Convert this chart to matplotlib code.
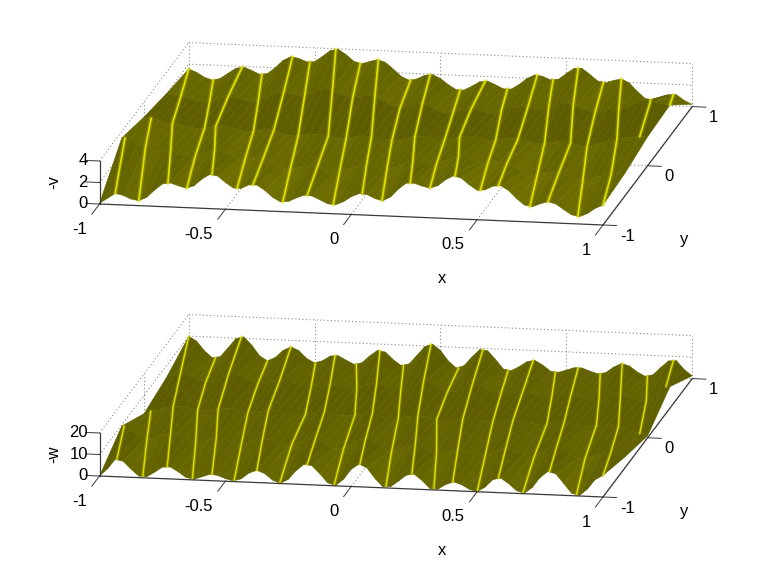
#! /usr/bin/env python3
import numpy as np
import matplotlib

matplotlib.use("Agg")
import matplotlib.pyplot as plt
from mpl_toolkits.mplot3d import proj3d

plt.rcParams["font.family"] = ["Liberation Sans", "DejaVu Sans"]

nan = float("nan")

# surface heights, one list per y row, 65 columns in x
y_rows = [-1.0, -0.5, 0.0, 0.5, 1.0]
x_grid = np.linspace(-1, 1, 65)

v_y_m100 = [.06, .55, 1.05, .89, .58, .46, .80, 1.50, 2.11, 2.23, 2.0, 1.8, 2.05, 2.70, 3.17, 3.06, 2.49, 2.0, 2.0, 2.36, 2.37, 1.91, 1.29, .90, .96, 1.32, 1.61, 1.57, 1.24, .90, .84, 1.15, 1.65, 1.97, 1.91, 1.57, 1.4, 1.78, 2.55, 3.13, 3.15, 2.91, 2.75, 3.01, 3.60, 3.99, 3.80, 3.21, 2.74, 2.81, 3.18, 3.26, 2.83, 2.12, 1.55, 1.42, 1.72, 1.95, 1.76, 1.28, .82, .68, .99, 1.51, 1.85]
v_y_m050 = [3.4, 3.2, 2.9, 2.6, 2.4, 2.4, 2.3, 2.1, 1.95, 1.9, 2.1, 2.4, 2.7, 2.4, 2.1, 1.9, 2.0, 2.1, 2.1, 1.7, 1.4, 1.1, 1.25, 1.4, 1.5, 1.35, 1.2, 1.1, 1.2, 1.45, 1.7, 1.8, 1.7, 1.5, 1.55, 1.85, 2.2, 2.4, 2.3, 2.2, 2.2, 2.5, 2.8, 3.0, 2.8, 2.55, 2.4, 2.5, 2.6, 2.6, 2.2, 1.8, 1.5, 1.55, 1.8, 1.9, 1.75, 1.45, 1.2, 1.25, 1.5, 1.75, 1.9, 2.0, 2.1]
v_y_000 = [2.6, 2.5, 2.3, 2.1, 2.1, 1.95, 1.8, 1.7, 1.85, 2.0, 2.1, 1.95, 1.75, 1.65, 1.7, 1.85, 1.9, 1.7, 1.5, 1.4, 1.5, 1.6, 1.65, 1.5, 1.4, 1.35, 1.45, 1.6, 1.7, 1.6, 1.5, 1.45, 1.4, 1.55, 1.75, 1.9, 1.8, 1.7, 1.65, 1.75, 1.95, 2.1, 2.0, 1.85, 1.75, 1.85, 2.0, 2.1, 1.95, 1.75, 1.6, 1.7, 1.85, 1.95, 1.8, 1.65, 1.55, 1.7, 1.95, 2.2, 2.35, 2.5, 2.6, 2.7, 2.7]
v_y_p050 = [2.0, 1.9, 1.75, 1.6, 1.4, 1.3, 1.45, 1.7, 1.9, 1.8, 1.65, 1.6, 1.8, 2.2, 2.5, 2.55, 2.4, 2.3, 2.5, 2.85, 3.1, 2.95, 2.65, 2.45, 2.45, 2.55, 2.6, 2.35, 2.0, 1.7, 1.6, 1.75, 1.95, 1.95, 1.6, 1.3, 1.25, 1.45, 1.65, 1.7, 1.55, 1.4, 1.45, 1.8, 2.1, 2.2, 2.05, 1.9, 1.95, 2.25, 2.55, 2.7, 2.45, 2.15, 1.95, 2.0, 2.2, 2.2, 2.3, 2.6, 3.0, 3.2, 3.1, 3.0, 2.9]
v_y_p100 = [1.55, 1.27, .84, .6, .79, 1.30, 1.80, 1.94, 1.66, 1.33, 1.43, 2.0, 2.72, 3.09, 2.96, 2.67, 2.72, 3.24, 3.82, 3.96, 3.5, 2.90, 2.71, 2.95, 3.15, 2.93, 2.34, 1.69, 1.36, 1.51, 1.88, 1.97, 1.64, 1.09, .66, .66, 1.05, 1.49, 1.58, 1.27, .92, .93, 1.39, 1.98, 2.34, 2.24, 1.93, 2.03, 2.59, 3.11, 3.13, 2.60, 2.01, 1.88, 2.13, 2.3, 1.96, 1.22, .58, .46, .72, 1.03, 1.04, .54, .2]

w_y_m100 = [0, 3.4, 8.1, 7.3, 3.8, .7, .55, 2.8, 5.35, 5.55, 3.45, .95, .25, 1.6, 2.9, 2.6, 1.2, .3, 1.4, 4.25, 5.7, 4.3, 1.4, .1, 2.1, 6.35, 9.4, 8.9, 5.3, 1.25, .1, 3.1, 8.0, 10.6, 8.9, 4.2, .5, .65, 3.4, 6.3, 6.95, 4.1, .55, .4, 2.7, 4.1, 3.0, .95, 0, 2.25, 5.95, 6.8, 4.4, 1.25, .2, 3.0, 7.8, 10.8, 9.8, 5.5, 1.1, .2, 3.3, 7.9, 10]
w_y_m050 = [9.5, 8, 5.5, 4, 4.6, 6, 7, 6.5, 5, 3.7, 3.6, 4.5, 5.5, 5.2, 4.2, 3.5, 4.2, 5.6, 6.5, 5.6, 4, 3, 4.2, 6.2, 8, 7.2, 5, 3.2, 3.3, 5.2, 7.6, 8.4, 7, 4.6, 3, 4, 5.6, 6.4, 5.4, 4, 3.1, 3.6, 4.7, 5, 4.2, 3.4, 3, 4.2, 5.8, 6.5, 5.5, 3.8, 3, 4.6, 7, 8.5, 7.5, 5, 3.2, 3.6, 4.8, 5.8, 6, 5.5, 5]
w_y_000 = [1.5, 2.8, 4, 5, 5.6, 5.5, 4.8, 4.2, 4.2, 4.8, 5.5, 5.4, 4.7, 4.1, 4.2, 4.9, 5.5, 5.3, 4.7, 4.2, 4.3, 5, 5.7, 5.6, 4.9, 4.3, 4.4, 5, 5.7, 5.7, 5, 4.3, 4.2, 4.8, 5.5, 5.8, 5.3, 4.6, 4.2, 4.5, 5.1, 5.5, 5.2, 4.6, 4.2, 4.6, 5.3, 5.7, 5.2, 4.5, 4.2, 4.6, 5.3, 5.7, 5.2, 4.5, 4.2, 4.5, 5, 5.3, 4.8, 3.8, 2.8, 1.8, .9]
w_y_p050 = [4.5, 6, 7, 5.8, 4, 3.1, 3.6, 5.4, 7.4, 7.6, 5.8, 3.7, 3.1, 4, 5.4, 5.9, 4.8, 3.4, 3.1, 3.6, 4.2, 4.4, 3.8, 3.1, 3.4, 4.5, 5.7, 5.6, 4.3, 3.2, 3.2, 4.6, 6.8, 8, 6.8, 4.5, 3.1, 4, 6, 7.4, 6.7, 4.7, 3.2, 3.2, 4, 4.9, 4.6, 3.6, 3, 3.3, 3.8, 4, 3.7, 3.2, 3, 3.4, 4.4, 5, 4.5, 3.7, 3.1, 3, 5, 8, 10]
w_y_p100 = [9.9, 7.85, 3.5, .4, 1.05, 5.3, 9.8, 10.7, 7.1, 2.3, 0, 1.75, 5.2, 7, 5.4, 1.9, 0, 1.15, 3.5, 3.8, 1.9, .1, .95, 4.3, 7.0, 6.4, 3.0, .45, 1.35, 5.4, 9.7, 11, 8.2, 3.5, .4, 1.6, 5.8, 9.4, 9.0, 5.1, .8, .2, 2.2, 4.7, 5.45, 3.4, .7, .35, 1.5, 2.8, 2.8, 1.5, .4, 1.1, 3.8, 5.65, 4.7, 2.1, .2, 1.0, 4.55, 7.8, 8.0, 4.0, 1.3]

# bright crease lines: x grid column they sit on at each y row
v_ridges = [
    [2, .4, nan, nan, nan], [5, 3, .9, nan, nan],
    [8.7, 6.2, 3.6, 1.8, 0], [11.1, 9.3, 7.7, 5.5, 3.1],
    [14.3, 11.8, 9.1, 7.8, 6.8], [17.5, 15.7, 13.9, 11.7, 9.3],
    [19.5, 18, 16.5, 14.9, 13.2], [23.3, 21.4, 19.6, 17.6, 15.4],
    [26.4, 24.8, 23.4, 21.1, 18.7], [29.7, 27.7, 25.7, 23.7, 21.8],
    [33.4, 31.1, 28.9, 26.5, 24.1], [35.9, 33.7, 31.5, 29.7, 28.2],
    [39.5, 37, 34.4, 32.5, 30.7], [42, 40, 38.2, 36.4, 34.5],
    [45.2, 42.8, 40.1, 38.7, 37.7], [48.4, 46.5, 44.7, 42.6, 40.5],
    [50.7, 49, 47.5, 45.9, 44.3], [54.7, 52.8, 50.9, 48.6, 46.3],
    [57, 55.5, 54.2, 51.7, 49.5], [60.8, 58.6, 56.3, 54.5, 52.7],
    [64, 62.2, 60.1, 57.5, 55], [nan, nan, 63, 61.5, 58.7],
    [nan, nan, nan, 64, 61.6],
]
w_ridges = [
    [2.2, .3, nan, nan, nan], [5.5, 3.2, .85, nan, nan],
    [8.6, 6.2, 3.7, 1.8, 0], [11.8, 9.4, 6.8, 5, 3.4],
    [14.3, 12, 9.4, 7.9, 6.7], [17.1, 15.2, 13.2, 11.6, 10],
    [20, 17.9, 15.8, 14.4, 13], [22.9, 21.6, 20.5, 18.4, 16.1],
    [26.4, 24.6, 22.9, 20.8, 18.6], [29.8, 28.2, 26.8, 24.2, 21.3],
    [33.1, 31, 29, 26.7, 24.3], [36.4, 34.3, 32.3, 29.8, 27.3],
    [39.7, 37.3, 34.8, 32.7, 30.8], [42.5, 40, 37.2, 35.7, 34.3],
    [44.9, 42.7, 40.5, 38.9, 37.4], [48, 46.2, 44.3, 42.5, 40.6],
    [50.7, 48.8, 46.9, 45.3, 43.8], [53.8, 52.4, 51.2, 49, 46.6],
    [57.2, 55.3, 53.4, 51.4, 49.5], [60.6, 58.9, 57.5, 55, 52.3],
    [64, 62.1, 60.3, 57.7, 55.1], [nan, nan, 63, 61, 58.3],
    [nan, nan, nan, 63.5, 61.6],
]

# how much darker each y row of the surface looks
v_row_tone = [1.0, 0.98, 0.9, 0.98, 1.0]
w_row_tone = [1.0, 0.98, 0.95, 0.98, 1.0]

x_ticks = [-1, -0.5, 0, 0.5, 1]
x_tick_labels = ["-1", "-0.5", "0", "0.5", "1"]
y_ticks = [-1, 0, 1]
y_tick_labels = ["-1", "0", "1"]
v_ticks = [0, 2, 4]
w_ticks = [0, 10, 20]

GRID = "#8a8a8a"
AXIS = "#3a3a3a"
FIG_W, FIG_H = 763, 575


def to_px(ax, x, y, z):
    ax.apply_aspect()
    xp, yp, _ = proj3d.proj_transform(x, y, z, ax.get_proj())
    return ax.transData.transform((xp, yp))


def fit_axes(ax, left_px, right_px):
    # put the front edge of the box on the wanted pixels
    side = 500.0
    cx, cy = FIG_W / 2, FIG_H / 2
    for _ in range(3):
        ax.set_position([(cx - side / 2) / FIG_W, (cy - side / 2) / FIG_H, side / FIG_W, side / FIG_H])
        a = to_px(ax, -1, -1, 0)
        b = to_px(ax, 1, -1, 0)
        side *= (right_px[0] - left_px[0]) / (b[0] - a[0])
    ax.set_position([(cx - side / 2) / FIG_W, (cy - side / 2) / FIG_H, side / FIG_W, side / FIG_H])
    a = to_px(ax, -1, -1, 0)
    cx += left_px[0] - a[0]
    cy += (FIG_H - left_px[1]) - a[1]
    ax.set_position([(cx - side / 2) / FIG_W, (cy - side / 2) / FIG_H, side / FIG_W, side / FIG_H])
    ax.apply_aspect()


def label(ax, x, y, z, s, **kw):
    xp, yp, _ = proj3d.proj_transform(x, y, z, ax.get_proj())
    ax.text2D(xp, yp, s, transform=ax.transData, fontsize=12, va="center", zorder=6, **kw)


def panel(rows, ridges, row_tone, z_ticks, z_label, left_px, right_px, px_per_z, base, amp, ridge_lw):
    z_top = z_ticks[-1]
    Z = np.array(rows)
    X, Y = np.meshgrid(x_grid, y_rows)

    ax = fig.add_subplot(projection="3d", proj_type="ortho", computed_zorder=False)
    ax.view_init(elev=13.6, azim=-79.95)
    ax.set_box_aspect((511, 511, 44.2))
    ax.set_xlim(-1, 1, view_margin=0)
    ax.set_ylim(-1, 1, view_margin=0)
    ax.set_zlim(0, z_top, view_margin=0)
    ax.set_axis_off()
    ax.patch.set_visible(False)
    fit_axes(ax, left_px, right_px)

    # dotted back walls and floor, behind the surface
    dots = dict(color=GRID, lw=0.8, ls=(0, (1, 2.2)), zorder=1)
    for z in z_ticks[1:]:
        ax.plot([-1, 1], [1, 1], [z, z], **dots)
        ax.plot([-1, -1], [-1, 1], [z, z], **dots)
    for x in x_ticks[1:]:
        ax.plot([x, x], [-1, 1], [0, 0], **dots)
        ax.plot([x, x], [1, 1], [0, z_top], **dots)
    ax.plot([-1, 1], [0, 0], [0, 0], **dots)
    ax.plot([-1, -1], [-1, 1], [0, 0], **dots)
    ax.plot([-1, 1], [1, 1], [0, 0], **dots)
    ax.plot([-1, -1], [0, 0], [0, z_top], **dots)
    ax.plot([-1, -1], [1, 1], [0, z_top], **dots)

    # shade each facet by how the picture's wave tilts in screen pixels
    tilt_x = np.gradient(Z, axis=1) * px_per_z / 7.87
    tilt_y = np.gradient(Z, axis=0) * px_per_z / 30.0
    level = base - amp * tilt_x - 0.2 * amp * tilt_y
    level = np.clip(level * np.array(row_tone)[:, None], 0.31, 0.52)
    colors = np.dstack([level, level, np.zeros_like(level), np.ones_like(level)])
    ax.plot_surface(X, Y, Z, facecolors=colors, rstride=1, cstride=1, shade=False, linewidth=0.35, antialiased=True, zorder=2)

    for cols in ridges:
        cols = np.array(cols)
        xs = -1 + cols / 32.0
        zs = [Z[i, int(round(c))] if c == c else nan for i, c in enumerate(cols)]
        ax.plot(xs, y_rows, zs, color="#c8c800", lw=ridge_lw * 2.6, alpha=0.28, zorder=3, solid_capstyle="round")
        ax.plot(xs, y_rows, zs, color="#e6e600", lw=ridge_lw, alpha=0.95, zorder=4, solid_capstyle="round")

    # axis lines, ticks and their labels
    ax.plot([-1, 1], [-1, -1], [0, 0], color=AXIS, lw=0.9, zorder=5)
    ax.plot([1, 1], [-1, 1], [0, 0], color=AXIS, lw=0.9, zorder=5)
    ax.plot([-1, -1], [-1, -1], [0, z_top], color=AXIS, lw=0.9, zorder=5)
    for x, lab in zip(x_ticks, x_tick_labels):
        ax.plot([x, x], [-1, -1.17], [0, 0], color=AXIS, lw=0.7, zorder=5)
        label(ax, x + 0.025, -1.42, 0, lab, ha="right")
    for y, lab in zip(y_ticks, y_tick_labels):
        ax.plot([1, 1.054], [y, y], [0, 0], color=AXIS, lw=0.7, zorder=5)
        label(ax, 1.097, y - 0.169, 0, lab, ha="left")
    for z in z_ticks:
        ax.plot([-1, -1.054], [-1, -1], [z, z], color=AXIS, lw=0.7, zorder=5)
        label(ax, -1.046, -1, z, str(z), ha="right")
    label(ax, 0.534, -1.981, 0, "x", ha="center")
    label(ax, 1.355, -1.19, 0, "y", ha="center")
    label(ax, -1.239, -0.67, 0, z_label, ha="center", rotation=90)
    return ax


fig = plt.figure(figsize=(FIG_W / 100, FIG_H / 100), dpi=100)

panel([v_y_m100, v_y_m050, v_y_000, v_y_p050, v_y_p100], v_ridges, v_row_tone, v_ticks, "-v", (99.5, 204), (603, 225), 10.75, 0.41, 0.03, 1.25)
panel([w_y_m100, w_y_m050, w_y_000, w_y_p050, w_y_p100], w_ridges, w_row_tone, w_ticks, "-w", (99.5, 476), (603, 497), 2.2, 0.39, 0.02, 1.0)

fig.savefig("out.png", dpi=100)
